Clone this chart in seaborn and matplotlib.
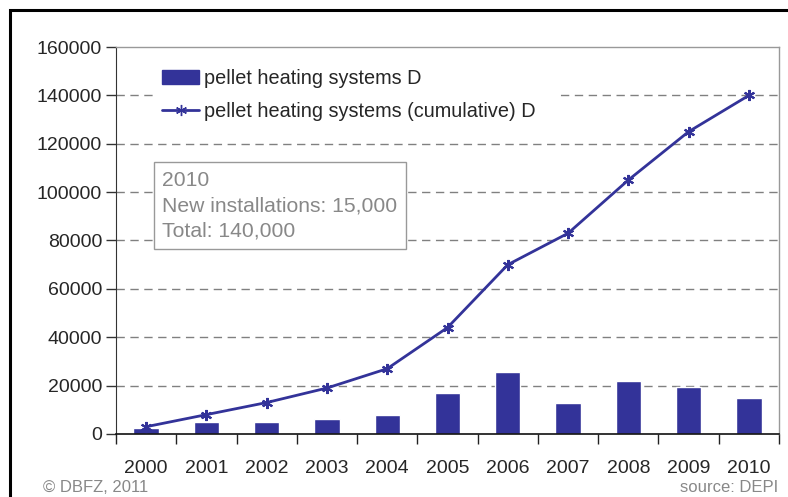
import numpy as np
import pandas as pd
import matplotlib
matplotlib.use("Agg")
import matplotlib.pyplot as plt
import seaborn as sns
from matplotlib.patches import Patch, Rectangle
from matplotlib.lines import Line2D

years = ["2000", "2001", "2002", "2003", "2004", "2005", "2006", "2007", "2008", "2009", "2010"]
new_systems = [2500, 5000, 5000, 6300, 8000, 17000, 25600, 12800, 21900, 19400, 15000]
cumulative = [3000, 8000, 13000, 19000, 27000, 44000, 70000, 83000, 105000, 125000, 140000]
yticks = [0, 20000, 40000, 60000, 80000, 100000, 120000, 140000, 160000]

df = pd.DataFrame({"year": years, "new": new_systems, "cum": cumulative})

sns.set_style("white")
plt.rcParams["font.family"] = ["Liberation Sans", "DejaVu Sans"]
blue = "#333399"

fig = plt.figure(figsize=(7.88, 4.97), dpi=100)
ax = fig.add_axes([0.1472, 0.1268, 0.8414, 0.7786])

# dashed grid behind everything
for v in yticks[1:-1]:
    ax.axhline(v, color="#808080", lw=1, ls=(0, (6, 4)), zorder=0)

sns.barplot(data=df, x="year", y="new", color=blue, width=0.42,
            saturation=1, ax=ax, zorder=2)
sns.pointplot(data=df, x="year", y="cum", color=blue, markers=(6, 2, 0),
              markersize=8, linewidth=2, ax=ax, zorder=3)

ax.set_xlim(-0.5, 10.5)
ax.set_ylim(0, 160000)
ax.set_yticks(yticks)
ax.set_yticklabels([str(v) for v in yticks], fontsize=14)
ax.set_xticks(np.arange(len(years)))
ax.set_xticklabels(years, fontsize=14)
ax.set_xlabel("")
ax.set_ylabel("")
ax.tick_params(axis="x", length=0, pad=19)
ax.tick_params(axis="y", left=True, length=7, width=1, color="#333333", pad=3)
# category boundary ticks on x axis
ax.set_xticks(np.arange(-0.5, 11, 1), minor=True)
ax.tick_params(axis="x", which="minor", bottom=True, length=7, width=1, color="#222222")

for s in ["top", "right"]:
    ax.spines[s].set_color("#999999")
    ax.spines[s].set_linewidth(1)
ax.spines["left"].set_color("#333333")
ax.spines["bottom"].set_color("#111111")
ax.spines["bottom"].set_linewidth(1.2)

handles = [Patch(facecolor=blue, edgecolor=blue),
           Line2D([], [], color=blue, lw=2, marker=(6, 2, 0), markersize=8)]
labels = ["pellet heating systems D", "pellet heating systems (cumulative) D   "]
leg = ax.legend(handles, labels, loc="upper left", bbox_to_anchor=(0.045, 0.985),
                fontsize=14.3, frameon=True, framealpha=1, edgecolor="white",
                facecolor="white", handlelength=1.9, handletextpad=0.25,
                labelspacing=0.7, borderpad=0.3, fancybox=False)
leg.set_zorder(5)

ax.text(0.070, 0.680, "2010\nNew installations: 15,000\nTotal: 140,000",
        transform=ax.transAxes, fontsize=15.2, color="#888888", va="top", ha="left",
        linespacing=1.42, zorder=6,
        bbox=dict(boxstyle="square,pad=0.4", facecolor="white", edgecolor="#999999", lw=1))

fig.text(43 / 788, 1 - 487 / 497, "\u00a9 DBFZ, 2011", fontsize=12, color="#888888",
         va="center", ha="left")
fig.text(778 / 788, 1 - 487 / 497, "source: DEPI", fontsize=12, color="#888888",
         va="center", ha="right")

# outer frame (right and bottom edges lie outside the picture)
fig.patches.append(Rectangle((10 / 788, -0.1), 1.2, 1 - 10 / 497 + 0.1,
                             transform=fig.transFigure, fill=False,
                             edgecolor="black", lw=2.2))

fig.savefig("out.png", dpi=100)
